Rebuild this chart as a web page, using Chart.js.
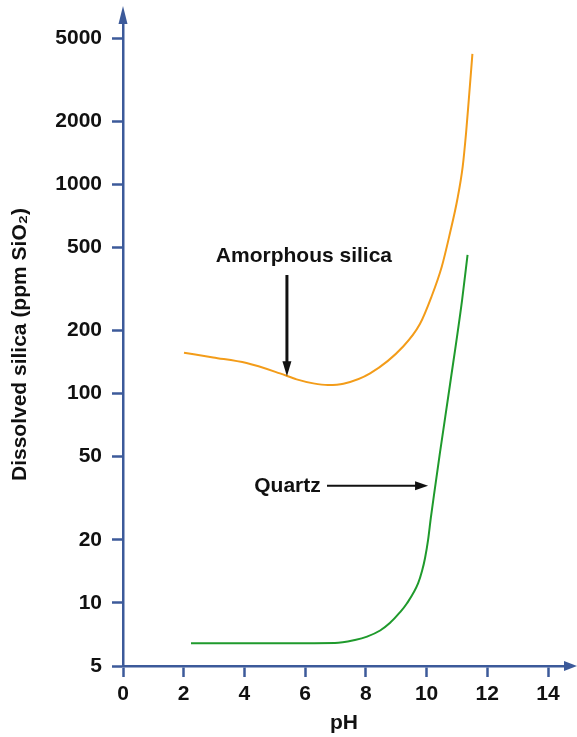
<!DOCTYPE html>
<html>
<head>
<meta charset="utf-8">
<title>Silica solubility vs pH</title>
<script src="https://cdn.jsdelivr.net/npm/chart.js@4/dist/chart.umd.min.js"></script>
<style>
  html, body { margin: 0; padding: 0; background: #fff; }
  #wrap { width: 577px; height: 737px; }
</style>
</head>
<body>
<div id="wrap"><canvas id="silicaChart" width="577" height="737"></canvas></div>
<script>
const amorphousPH  = [2.01, 2.97, 4.07, 5.17, 5.72, 6.27, 6.75, 7.26, 8.14, 9.23, 9.78, 10.16, 10.50, 10.77, 11.01, 11.19, 11.30, 11.39, 11.51];
const amorphousPpm = [157, 149, 140, 125, 117, 112, 110, 111.5, 125, 168, 215, 290, 404, 584, 842, 1215, 1754, 2530, 4200];

const quartzPH  = [2.24, 4.0, 6.0, 6.98, 7.64, 8.04, 8.47, 8.79, 9.12, 9.35, 9.72, 9.85, 9.95, 10.05, 10.14, 10.24, 10.44, 10.77, 11.17, 11.35];
const quartzPpm = [6.43, 6.43, 6.43, 6.44, 6.66, 6.91, 7.39, 8.02, 9.01, 9.94, 12.4, 14.2, 16.4, 20.0, 25.5, 32.5, 52.1, 110, 280, 460];

const xTickValues = [0, 2, 4, 6, 8, 10, 12, 14];
const yTickValues = [5, 10, 20, 50, 100, 200, 500, 1000, 2000, 5000];

// callouts, in data units (pH, ppm)
const amorphousLabel = { text: 'Amorphous silica', x: 5.96, y: 455 };
const amorphousArrow = { x: 5.4, from: 369, to: 121 };
const quartzLabel = { text: 'Quartz', x: 5.42, y: 36.3 };
const quartzArrow = { y: 36.3, from: 6.72, to: 10.05 };

const axisBlue = '#3c5a9a';
const fontFamily = "'Liberation Sans', Arial, Helvetica, sans-serif";

function toPoints(xs, ys) {
    return xs.map((x, i) => ({ x: x, y: ys[i] }));
}

// arrow heads at the ends of both axes
const axisArrows = {
    id: 'axisArrows',
    afterDraw(chart) {
        const { ctx, chartArea: a } = chart;
        ctx.save();
        ctx.fillStyle = axisBlue;
        ctx.beginPath();
        ctx.moveTo(a.left - 4.5, a.top + 1);
        ctx.lineTo(a.left + 4.5, a.top + 1);
        ctx.lineTo(a.left, a.top - 17);
        ctx.closePath();
        ctx.fill();
        ctx.beginPath();
        ctx.moveTo(a.right - 1, a.bottom - 5);
        ctx.lineTo(a.right - 1, a.bottom + 5);
        ctx.lineTo(a.right + 12, a.bottom);
        ctx.closePath();
        ctx.fill();
        ctx.restore();
    }
};

// text labels with black pointer arrows
const callouts = {
    id: 'callouts',
    afterDatasetsDraw(chart) {
        const { ctx } = chart;
        const xs = chart.scales.x, ys = chart.scales.y;
        ctx.save();
        ctx.fillStyle = '#111';
        ctx.strokeStyle = '#111';
        ctx.font = 'bold 21px ' + fontFamily;
        ctx.textAlign = 'center';
        ctx.textBaseline = 'middle';
        ctx.fillText(amorphousLabel.text, xs.getPixelForValue(amorphousLabel.x), ys.getPixelForValue(amorphousLabel.y));
        ctx.fillText(quartzLabel.text, xs.getPixelForValue(quartzLabel.x), ys.getPixelForValue(quartzLabel.y));

        // vertical arrow onto the amorphous curve
        let ax = xs.getPixelForValue(amorphousArrow.x);
        let y0 = ys.getPixelForValue(amorphousArrow.from);
        let y1 = ys.getPixelForValue(amorphousArrow.to);
        ctx.lineWidth = 3;
        ctx.beginPath();
        ctx.moveTo(ax, y0);
        ctx.lineTo(ax, y1 - 12);
        ctx.stroke();
        ctx.beginPath();
        ctx.moveTo(ax - 4.5, y1 - 15);
        ctx.lineTo(ax + 4.5, y1 - 15);
        ctx.lineTo(ax, y1);
        ctx.closePath();
        ctx.fill();

        // horizontal arrow onto the quartz curve
        let qy = ys.getPixelForValue(quartzArrow.y);
        let x0 = xs.getPixelForValue(quartzArrow.from);
        let x1 = xs.getPixelForValue(quartzArrow.to);
        ctx.lineWidth = 2;
        ctx.beginPath();
        ctx.moveTo(x0, qy);
        ctx.lineTo(x1 - 10, qy);
        ctx.stroke();
        ctx.beginPath();
        ctx.moveTo(x1 - 13, qy - 4.5);
        ctx.lineTo(x1 - 13, qy + 4.5);
        ctx.lineTo(x1, qy);
        ctx.closePath();
        ctx.fill();
        ctx.restore();
    }
};

const ctx = document.getElementById('silicaChart').getContext('2d');
const silicaChart = new Chart(ctx, {
    type: 'line',
    data: {
        datasets: [{
            label: 'Amorphous silica',
            data: toPoints(amorphousPH, amorphousPpm),
            borderColor: '#f39c19',
            borderWidth: 2,
            pointRadius: 0,
            fill: false,
            cubicInterpolationMode: 'monotone'
        }, {
            label: 'Quartz',
            data: toPoints(quartzPH, quartzPpm),
            borderColor: '#1f9a2c',
            borderWidth: 2,
            pointRadius: 0,
            fill: false,
            cubicInterpolationMode: 'monotone'
        }]
    },
    options: {
        responsive: false,
        animation: false,
        layout: { padding: { top: 23, right: 12, bottom: 0, left: 0 } },
        plugins: {
            legend: { display: false },
            tooltip: { enabled: false }
        },
        scales: {
            x: {
                type: 'linear',
                min: 0,
                max: 14.56,
                afterBuildTicks: s => { s.ticks = xTickValues.map(v => ({ value: v })); },
                afterFit: s => { s.height = 71; },
                border: { color: axisBlue, width: 2.5 },
                grid: { drawOnChartArea: false, tickLength: 11, tickColor: axisBlue, tickWidth: 2.5 },
                ticks: {
                    autoSkip: false,
                    maxRotation: 0,
                    padding: 5,
                    color: '#111',
                    font: { family: fontFamily, size: 21, weight: 'bold' },
                    callback: v => String(v)
                },
                title: {
                    display: true,
                    text: 'pH',
                    color: '#111',
                    padding: { top: 0, bottom: 1 },
                    font: { family: fontFamily, size: 21, weight: 'bold' }
                }
            },
            y: {
                type: 'logarithmic',
                min: 5,
                max: 5900,
                afterBuildTicks: s => { s.ticks = yTickValues.map(v => ({ value: v })); },
                afterFit: s => { s.width = 123; },
                border: { color: axisBlue, width: 2.5 },
                grid: { drawOnChartArea: false, tickLength: 11, tickColor: axisBlue, tickWidth: 2.5 },
                ticks: {
                    autoSkip: false,
                    padding: 10,
                    color: '#111',
                    font: { family: fontFamily, size: 21, weight: 'bold' },
                    callback: v => String(v)
                },
                title: {
                    display: true,
                    text: 'Dissolved silica (ppm SiO₂)',
                    color: '#111',
                    padding: { top: 8, bottom: 0 },
                    font: { family: fontFamily, size: 21, weight: 'bold' }
                }
            }
        }
    },
    plugins: [axisArrows, callouts]
});
</script>
</body>
</html>
